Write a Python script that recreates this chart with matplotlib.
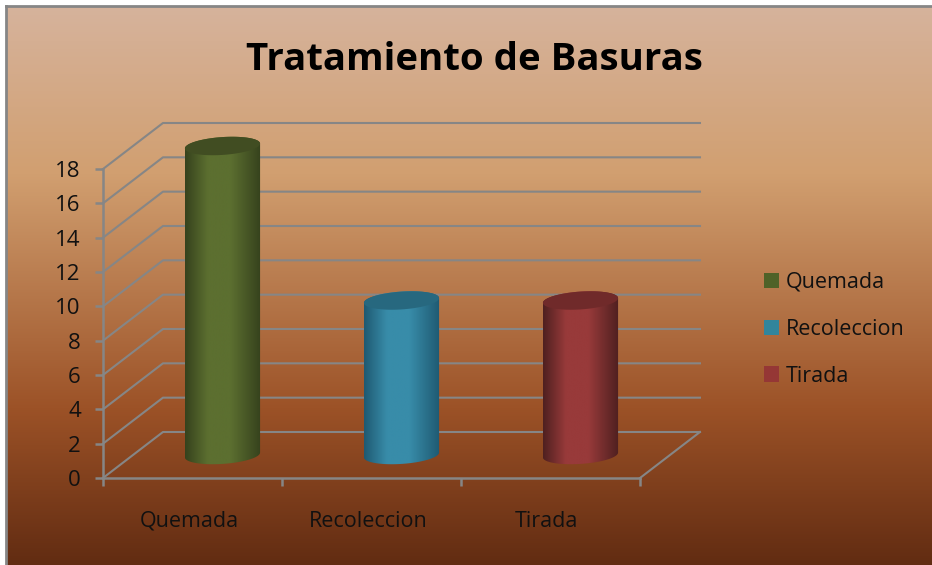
import numpy as np
import matplotlib as mpl
mpl.use('Agg')
import matplotlib.pyplot as plt
from matplotlib.colors import LinearSegmentedColormap
from matplotlib.patches import Patch, PathPatch
from matplotlib.path import Path

categories = ['Quemada', 'Recoleccion', 'Tirada']
values = [18, 9, 9]
y_ticks = list(range(0, 20, 2))

TOP_COLORS = ['#414d22', '#27687f', '#702a2a']
EDGE_COLORS = ['#36421d', '#1f5a72', '#4f2020']
MID_COLORS = ['#5c6f30', '#388ca9', '#983a3a']
LEGEND_COLORS = ['#4f6228', '#31859c', '#953735']
GREY = '#868686'
W, H = 932, 565

# depth of the fake 3d box, in data units
DX = 0.335
DY = 2.68
BAR_W = 0.21
ELL_H = 0.52
SHEAR = 0.14

plt.rcParams['font.family'] = ['Open Sans', 'DejaVu Sans']


def ellipse(cx, cy, t):
    return cx + BAR_W * np.cos(t), cy + ELL_H * np.sin(t) + SHEAR * np.cos(t)


def draw_cylinder(ax, cx, base, top, i):
    t_top = np.linspace(0, np.pi, 40)
    t_bot = np.linspace(np.pi, 2 * np.pi, 40)
    xt, yt = ellipse(cx, top, t_top)
    xb, yb = ellipse(cx, base, t_bot)
    verts = np.column_stack([np.r_[xt, xb], np.r_[yt, yb]])
    body = PathPatch(Path(np.vstack([verts, verts[0]])), fc='none', ec='none',
                     transform=ax.transData, clip_on=False)
    ax.add_patch(body)

    cmap = LinearSegmentedColormap.from_list(
        'cyl', [(0, EDGE_COLORS[i]), (0.3, MID_COLORS[i]), (0.6, MID_COLORS[i]), (1, EDGE_COLORS[i])])
    shade = np.linspace(0, 1, 128).reshape(1, -1)
    im = ax.imshow(shade, cmap=cmap, aspect='auto', zorder=3, interpolation='bilinear',
                   extent=[cx - BAR_W, cx + BAR_W, base - 1, top + 1])
    im.set_clip_box(fig.bbox)
    im.set_clip_path(body)

    t = np.linspace(0, 2 * np.pi, 80)
    xe, ye = ellipse(cx, top, t)
    ax.fill(xe, ye, color=TOP_COLORS[i], lw=0, zorder=4, clip_on=False)


fig = plt.figure(figsize=(W / 100, H / 100), dpi=100, facecolor='white')

# background
bg = fig.add_axes([6 / W, 0, 1 - 6 / W, 1 - 6 / H], zorder=0)
bg_cmap = LinearSegmentedColormap.from_list(
    'bg', [(0, '#d6b39c'), (0.3, '#d19f70'), (0.72, '#9c5227'), (1, '#622c12')])
bg.imshow(np.linspace(0, 1, 256).reshape(-1, 1), cmap=bg_cmap, aspect='auto')
bg.set_xticks([])
bg.set_yticks([])
for name, spine in bg.spines.items():
    spine.set_visible(name in ('left', 'top'))
    spine.set_color(GREY)
    spine.set_linewidth(2)

ax = fig.add_axes([103 / W, (H - 478) / H, 537 / W, 309 / H], zorder=1)
ax.patch.set_alpha(0)

# back wall and side wall
for v in y_ticks:
    ax.plot([0, DX, len(categories) + DX], [v, v + DY, v + DY],
            color=GREY, lw=1.5, clip_on=False, zorder=1)
ax.plot([len(categories), len(categories) + DX], [0, DY], color=GREY, lw=1.5, clip_on=False, zorder=1)

for i, v in enumerate(values):
    draw_cylinder(ax, i + 0.5 + DX / 2, DY / 2, v + DY / 2, i)

ax.set_xlim(0, len(categories))
ax.set_ylim(0, 18)
for name in ('top', 'right'):
    ax.spines[name].set_visible(False)
for name in ('left', 'bottom'):
    ax.spines[name].set_color(GREY)
    ax.spines[name].set_linewidth(1.8)
ax.set_yticks(y_ticks)
ax.set_xticks(range(len(categories) + 1))
ax.set_xticklabels([])
ax.set_xticks(np.arange(len(categories)) + 0.48, minor=True)
ax.set_xticklabels(categories, minor=True)
ax.tick_params(axis='x', which='major', color=GREY, length=6, width=1.8)
ax.tick_params(axis='x', which='minor', length=0, pad=23.5, labelsize=15.5, colors='#111111')
ax.tick_params(axis='y', color=GREY, length=6, width=1.8, pad=10, labelsize=16, labelcolor='#111111')

handles = [Patch(fc=c, ec='none', label=l) for c, l in zip(LEGEND_COLORS, categories)]
ax.legend(handles=handles, loc='upper left', bbox_to_anchor=(745 / W, 1 - 252.5 / H),
          bbox_transform=fig.transFigure, frameon=False, fontsize=15.5, labelcolor='#111111',
          handlelength=0.7, handleheight=0.7, handletextpad=0.3, labelspacing=1.2)

fig.text(474.5 / W, 1 - 60 / H, 'Tratamiento de Basuras', ha='center', va='center',
         fontsize=27.6, fontweight='bold', color='black')

fig.savefig('out.png', dpi=100)
